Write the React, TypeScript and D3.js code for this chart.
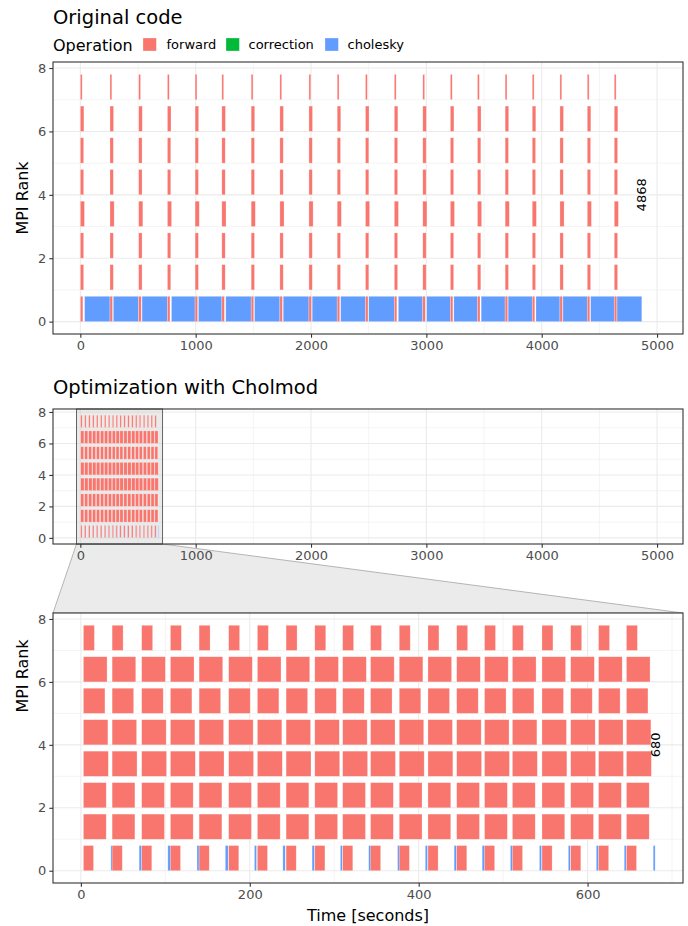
import React, { useEffect, useRef } from 'react';
import * as d3 from 'd3';

const ranks = [0, 1, 2, 3, 4, 5, 6, 7];
const operations = ['forward', 'correction', 'cholesky'];
const opColors = ['#F8766D', '#00BA38', '#619CFF'];

// Original code (seconds)
const origCycleStart = [0, 257, 506, 755, 995, 1227, 1481, 1730, 1982, 2227, 2472, 2722, 2969, 3208, 3443, 3683, 3918, 4158, 4395, 4629];
const origForwardDur = [22, 29, 29, 36, 29, 29, 31, 16];
const origCholStart = [37, 286, 535, 790, 1024, 1261, 1510, 1759, 2010, 2257, 2500, 2757, 3003, 3238, 3475, 3709, 3950, 4184, 4424, 4653];
const origCholEnd = [257, 506, 755, 995, 1227, 1481, 1730, 1982, 2227, 2472, 2722, 2969, 3208, 3443, 3683, 3918, 4158, 4395, 4629, 4868];
const origTotal = 4868;

// Optimization with Cholmod (seconds)
const cmCycleStart = [3, 37, 72, 106, 140, 175, 209, 243, 277, 310, 343, 377, 411, 445, 478, 511, 546, 580, 613, 646];
const cmForwardDur = [12, 27, 27, 29.5, 29, 25.5, 28, 13];
const cmCholStart = [35.5, 69, 103, 137.5, 171, 205.5, 239.2, 273.8, 307.3, 340.8, 375, 407.8, 442, 475.2, 508.6, 543, 577.2, 610.3, 643.4, 677.7];
const cmCholEnd = [37.5, 72, 106.4, 140, 174.4, 208, 242, 276.6, 309.6, 343.5, 377.4, 410.5, 444.8, 478.3, 511.4, 545.6, 579.6, 613, 645.7, 680];
const cmTotal = 680;

const wideTicks = [0, 1000, 2000, 3000, 4000, 5000];
const wideMinor = [500, 1500, 2500, 3500, 4500];
const zoomTicks = [0, 200, 400, 600];
const zoomMinor = [100, 300, 500, 700];
const rankTicks = [0, 2, 4, 6, 8];
const rankMinor = [1, 3, 5, 7];

const FONT = "'DejaVu Sans', Verdana, sans-serif";
const color = d3.scaleOrdinal<string, string>().domain(operations).range(opColors);

interface Seg { rank: number; op: string; start: number; end: number; }

function buildSegs(cycleStart: number[], fwd: number[], cs: number[], ce: number[]): Seg[] {
  const segs: Seg[] = [];
  cs.forEach((s, i) => segs.push({ rank: 0, op: 'cholesky', start: s, end: ce[i] }));
  cycleStart.forEach(c => ranks.forEach(r => segs.push({ rank: r, op: 'forward', start: c, end: c + fwd[r] })));
  return segs;
}

function drawPanel(
  svg: d3.Selection<SVGSVGElement, unknown, null, undefined>,
  x: d3.ScaleLinear<number, number>,
  y: d3.ScaleLinear<number, number>,
  segs: Seg[],
  majorX: number[],
  minorX: number[],
  label?: { at: number; text: string },
  zoomBox?: [number, number]
) {
  const [x0, x1] = x.range();
  const [y1, y0] = y.range();
  const g = svg.append('g');

  g.append('rect').attr('x', x0).attr('y', y0).attr('width', x1 - x0).attr('height', y1 - y0).attr('fill', 'white');

  // grid
  g.selectAll('.vminor').data(minorX).enter().append('line')
    .attr('x1', d => x(d)).attr('x2', d => x(d)).attr('y1', y0).attr('y2', y1)
    .attr('stroke', '#ebebeb').attr('stroke-width', 0.55);
  g.selectAll('.hminor').data(rankMinor).enter().append('line')
    .attr('x1', x0).attr('x2', x1).attr('y1', d => y(d)).attr('y2', d => y(d))
    .attr('stroke', '#ebebeb').attr('stroke-width', 0.55);
  g.selectAll('.vmajor').data(majorX).enter().append('line')
    .attr('x1', d => x(d)).attr('x2', d => x(d)).attr('y1', y0).attr('y2', y1)
    .attr('stroke', '#ebebeb').attr('stroke-width', 1.1);
  g.selectAll('.hmajor').data(rankTicks).enter().append('line')
    .attr('x1', x0).attr('x2', x1).attr('y1', d => y(d)).attr('y2', d => y(d))
    .attr('stroke', '#ebebeb').attr('stroke-width', 1.1);

  if (zoomBox) {
    g.append('rect')
      .attr('x', x(zoomBox[0])).attr('y', y0)
      .attr('width', x(zoomBox[1]) - x(zoomBox[0])).attr('height', y1 - y0)
      .attr('fill', 'rgba(190,190,190,0.32)');
  }

  g.append('g').selectAll('rect').data(segs).enter().append('rect')
    .attr('x', d => x(d.start))
    .attr('width', d => Math.max(0.6, x(d.end) - x(d.start)))
    .attr('y', d => y(d.rank + 0.8))
    .attr('height', d => y(d.rank) - y(d.rank + 0.8))
    .attr('fill', d => color(d.op))
    .attr('stroke', 'rgba(255,255,255,0.45)')
    .attr('stroke-width', 0.6);

  if (zoomBox) {
    g.append('rect')
      .attr('x', x(zoomBox[0])).attr('y', y0)
      .attr('width', x(zoomBox[1]) - x(zoomBox[0])).attr('height', y1 - y0)
      .attr('fill', 'none').attr('stroke', '#555').attr('stroke-width', 0.9);
  }

  if (label) {
    g.append('text')
      .attr('transform', `translate(${x(label.at)},${y(4)}) rotate(-90)`)
      .attr('text-anchor', 'middle').attr('dy', '0.35em')
      .attr('font-size', 13).attr('fill', 'black')
      .text(label.text);
  }

  g.append('rect').attr('x', x0).attr('y', y0).attr('width', x1 - x0).attr('height', y1 - y0)
    .attr('fill', 'none').attr('stroke', '#333333').attr('stroke-width', 1.1);

  // axes
  const ax = g.append('g').attr('transform', `translate(0,${y1})`)
    .call(d3.axisBottom(x).tickValues(majorX).tickSize(3.7).tickPadding(3).tickFormat(d3.format('d')));
  const ay = g.append('g').attr('transform', `translate(${x0},0)`)
    .call(d3.axisLeft(y).tickValues(rankTicks).tickSize(3.7).tickPadding(3).tickFormat(d3.format('d')));
  [ax, ay].forEach(a => {
    a.select('.domain').remove();
    a.selectAll('line').attr('stroke', '#333333').attr('stroke-width', 1.1);
    a.selectAll('text').attr('fill', '#4d4d4d').attr('font-size', 13).attr('font-family', FONT);
  });
}

const App: React.FC = () => {
  const ref = useRef<SVGSVGElement>(null);

  useEffect(() => {
    if (!ref.current) return;
    const svg = d3.select(ref.current);
    svg.selectAll('*').remove();
    svg.attr('font-family', FONT);

    const origSegs = buildSegs(origCycleStart, origForwardDur, origCholStart, origCholEnd);
    const cmSegs = buildSegs(cmCycleStart, cmForwardDur, cmCholStart, cmCholEnd);

    const xWide = d3.scaleLinear().domain([-237, 5225]).range([53, 683]);
    const xZoom = d3.scaleLinear().domain([-33, 713]).range([53, 683]);
    const yTop = d3.scaleLinear().domain([-0.39, 8.19]).range([334, 62]);
    const yMid = d3.scaleLinear().domain([-0.39, 8.19]).range([544, 409]);
    const yBot = d3.scaleLinear().domain([-0.39, 8.19]).range([883, 613]);

    // titles
    svg.append('text').attr('x', 53).attr('y', 24).attr('font-size', 19.5).attr('fill', 'black').text('Original code');
    svg.append('text').attr('x', 53).attr('y', 394).attr('font-size', 19.5).attr('fill', 'black').text('Optimization with Cholmod');

    // legend
    svg.append('text').attr('x', 53).attr('y', 45).attr('dy', '0.35em').attr('font-size', 16).attr('fill', 'black').text('Operation');
    const keyX = [143, 226, 325];
    const labX = [166.5, 248.5, 347.5];
    operations.forEach((op, i) => {
      svg.append('rect').attr('x', keyX[i]).attr('y', 38).attr('width', 13.4).attr('height', 13)
        .attr('fill', color(op)).attr('stroke', 'rgba(255,255,255,0.5)').attr('stroke-width', 0.6);
      svg.append('text').attr('x', labX[i]).attr('y', 44.5).attr('dy', '0.35em')
        .attr('font-size', 13).attr('fill', 'black').text(op);
    });

    // zoom indicator between overview and zoom panel
    const zb: [number, number] = [xZoom.domain()[0], xZoom.domain()[1]];
    svg.append('path')
      .attr('d', d3.line()([
        [xWide(zb[0]), yMid.range()[0]],
        [xWide(zb[1]), yMid.range()[0]],
        [xZoom.range()[1], yBot.range()[1]],
        [xZoom.range()[0], yBot.range()[1]],
      ]) + 'Z')
      .attr('fill', '#ebebeb').attr('stroke', '#9a9a9a').attr('stroke-width', 0.7);

    drawPanel(svg, xWide, yTop, origSegs, wideTicks, wideMinor, { at: origTotal, text: String(origTotal) });
    drawPanel(svg, xWide, yMid, cmSegs, wideTicks, wideMinor, undefined, zb);
    drawPanel(svg, xZoom, yBot, cmSegs, zoomTicks, zoomMinor, { at: cmTotal, text: String(cmTotal) });

    // axis titles
    svg.append('text').attr('transform', 'translate(22,198) rotate(-90)').attr('text-anchor', 'middle')
      .attr('dy', '0.35em').attr('font-size', 16).attr('fill', 'black').text('MPI Rank');
    svg.append('text').attr('transform', 'translate(22,676) rotate(-90)').attr('text-anchor', 'middle')
      .attr('dy', '0.35em').attr('font-size', 16).attr('fill', 'black').text('MPI Rank');
    svg.append('text').attr('x', 368).attr('y', 921).attr('text-anchor', 'middle')
      .attr('font-size', 16).attr('fill', 'black').text('Time [seconds]');
  }, []);

  return <svg ref={ref} width={688} height={926} style={{ position: 'absolute', left: 0, top: 0 }} />;
};

export default App;
